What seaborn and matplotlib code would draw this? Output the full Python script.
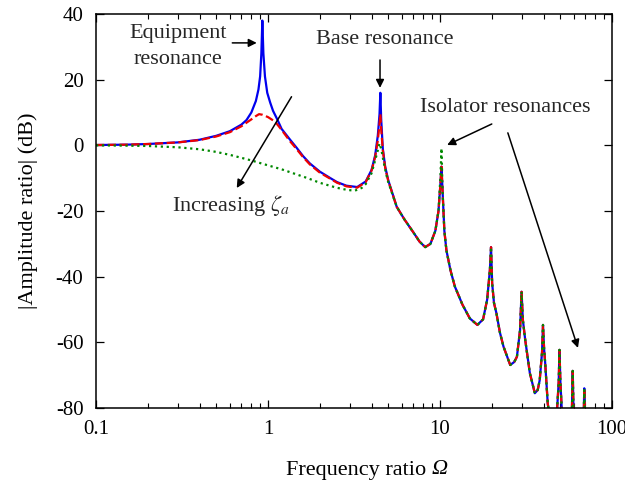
import numpy as np
import pandas as pd
import matplotlib
matplotlib.use("Agg")
import matplotlib.pyplot as plt
import seaborn as sns

# ---------------- data ----------------
omega_low_blue = [0.1, 0.15, 0.2, 0.3, 0.4, 0.5, 0.6, 0.7, 0.75, 0.8, 0.85, 0.88, 0.9,
                  0.915, 0.927, 0.94, 0.96, 0.99, 1.03, 1.07, 1.13, 1.2, 1.34, 1.47,
                  1.6, 1.75, 2.0, 2.29, 2.52, 2.86, 3.3, 3.7, 4.0, 4.2, 4.35, 4.45, 4.5,
                  4.55, 4.65, 4.8, 5.0]
amp_low_blue = [0.1, 0.2, 0.4, 0.9, 1.7, 2.9, 4.3, 6.3, 7.7, 10.0, 13.5, 17.0, 21.0,
                28.0, 38.0, 28.0, 21.0, 16.0, 13.0, 10.5, 8.0, 5.0, 1.8, -0.8,
                -3.3, -5.5, -8.0, -9.9, -11.2, -12.3, -12.7, -11.0, -7.5, -3.0, 3.0, 9.5, 16.0,
                8.0, -1.0, -6.5, -10.6]

omega_low_red = [0.1, 0.15, 0.2, 0.3, 0.4, 0.5, 0.6, 0.7, 0.75, 0.8, 0.85, 0.887, 0.93,
                 1.0, 1.1, 1.2, 1.34, 1.47, 1.6, 1.75, 2.0, 2.29, 2.52, 2.86, 3.3, 3.7,
                 4.0, 4.2, 4.35, 4.45, 4.5, 4.55, 4.65, 4.8, 5.0]
amp_low_red = [0.1, 0.2, 0.4, 0.9, 1.6, 2.7, 4.0, 5.8, 6.9, 7.9, 8.9, 9.5, 9.3,
               8.6, 7.2, 4.7, 1.3, -1.2, -3.6, -5.8, -8.3, -10.1, -11.4, -12.5, -12.9, -11.2,
               -7.7, -3.5, 1.5, 6.5, 9.5, 5.0, -1.5, -6.8, -10.8]

omega_low_green = [0.1, 0.15, 0.2, 0.3, 0.4, 0.5, 0.6, 0.7, 0.8, 0.9, 1.0, 1.2, 1.4,
                   1.7, 2.0, 2.5, 2.9, 3.2, 3.5, 3.7, 4.0, 4.2, 4.35, 4.45, 4.55,
                   4.7, 4.85, 5.0]
amp_low_green = [0.0, -0.1, -0.2, -0.6, -1.2, -2.0, -2.9, -3.8, -4.6, -5.4, -6.1, -7.3, -8.5,
                 -10.0, -11.4, -12.9, -13.6, -13.8, -13.0, -11.8, -8.5, -4.5, -1.5, 0.6, -1.0,
                 -5.0, -8.5, -11.2]

omega_tail = [5.6, 6.2, 7.0, 7.6, 8.2, 8.8, 9.4, 9.8, 10.05, 10.2, 10.35, 10.6, 10.9,
              11.5, 12.2, 13.5, 14.9, 16.5, 17.8, 18.8, 19.5, 19.8, 20.1, 20.6, 21.3,
              22.3, 23.4, 25.6, 27.0, 28.0, 29.2, 29.8, 30.3, 31.3, 33.3, 35.6, 37.0,
              38.0, 39.2, 39.7, 40.3, 40.9, 42.3, 44.0, 46.0, 48.0, 49.0, 49.5, 50.1,
              51.0, 53.0, 57.0, 58.5, 59.1, 59.7, 61.0, 67.0, 68.5, 69.0, 69.6, 71.0, 100.0]
amp_tail = [-18.7, -22.5, -26.5, -29.3, -31.0, -30.0, -26.0, -20.0, -12.0, -6.5, -14.0, -26.0, -32.0,
            -38.0, -43.0, -48.5, -52.7, -54.7, -53.0, -47.0, -38.0, -31.0, -42.0, -48.0, -51.2,
            -57.0, -61.3, -66.9, -66.0, -64.4, -56.3, -44.6, -53.0, -59.3, -69.4, -75.5, -74.5,
            -71.5, -63.0, -54.7, -62.0, -66.4, -78.6, -85.0, -86.0, -80.0, -72.0, -62.3, -72.0,
            -80.0, -88.0, -88.0, -80.0, -68.7, -80.0, -88.0, -90.0, -82.0, -74.0, -82.0, -90.0, -95.0]
amp_tail_green = [-18.7, -22.5, -26.5, -29.3, -31.0, -30.0, -26.0, -20.0, -10.0, -0.9, -14.0, -26.0, -32.0,
                  -38.0, -43.0, -48.5, -52.7, -54.7, -53.0, -47.0, -38.0, -31.0, -42.0, -48.0, -51.2,
                  -57.0, -61.3, -66.9, -66.0, -64.4, -56.3, -44.6, -53.0, -59.3, -69.4, -75.5, -74.5,
                  -71.5, -63.0, -54.7, -62.0, -66.4, -78.6, -85.0, -86.0, -80.0, -72.0, -62.3, -72.0,
                  -80.0, -88.0, -88.0, -80.0, -68.7, -80.0, -88.0, -90.0, -82.0, -74.5, -82.0, -90.0, -95.0]

x_ticks = [0.1, 1, 10, 100]
x_tick_labels = ["0.1", "1", "10", "100"]
y_ticks = [-80, -60, -40, -20, 0, 20, 40]
y_tick_labels = ["-80", "-60", "-40", "-20", "0", "20", "40"]

# ---------------- style ----------------
sns.set_theme(style="ticks")
plt.rcParams["font.family"] = ["Liberation Serif", "DejaVu Serif"]
plt.rcParams["mathtext.fontset"] = "stix"
plt.rcParams["axes.unicode_minus"] = False

fig = plt.figure(figsize=(6.25, 4.82), dpi=100)
ax = fig.add_axes([96 / 625, 1 - 408 / 482, (612 - 96) / 625, (408 - 14) / 482])

series = [
    ("blue", omega_low_blue + omega_tail, amp_low_blue + amp_tail, "-", "#0000ee"),
    ("red", omega_low_red + omega_tail, amp_low_red + amp_tail, "--", "#ee0000"),
    ("green", omega_low_green + omega_tail, amp_low_green + amp_tail_green, ":", "#008800"),
]
for name, xs, ys, ls, col in series:
    df = pd.DataFrame({"omega": xs, "amp": ys})
    sns.lineplot(data=df, x="omega", y="amp", ax=ax, color=col, linestyle=ls,
                 linewidth=1.6, estimator=None, sort=False, legend=False)

ax.set_xscale("log")
ax.set_xlim(0.1, 100)
ax.set_ylim(-80, 40)
ax.set_xticks(x_ticks, labels=x_tick_labels)
ax.set_yticks(y_ticks, labels=y_tick_labels)
ax.xaxis.set_minor_locator(matplotlib.ticker.LogLocator(base=10, subs=np.arange(2, 10)))
ax.xaxis.set_minor_formatter(matplotlib.ticker.NullFormatter())
ax.tick_params(which="both", direction="in", top=True, right=True, color="black")
ax.tick_params(which="major", length=6, width=0.9, labelsize=15, pad=9, labelcolor="black")
ax.tick_params(which="minor", length=3.5, width=0.8)
for sp in ax.spines.values():
    sp.set_linewidth(1.1)
    sp.set_color("black")

ax.set_xlabel("")
ax.set_ylabel("|Amplitude ratio| (dB)", fontsize=16, color="black", labelpad=13)

# x label: upright text followed by an italic Omega
t1 = fig.text(286 / 625, 1 - 470 / 482, "Frequency ratio ", ha="left", va="center",
              fontsize=16, color="black")
ax.annotate("Ω", xy=(1.0, 0.0), xycoords=t1, ha="left", va="bottom",
            fontsize=16, fontstyle="italic", color="black")

# ---------------- annotations ----------------
akw = dict(arrowstyle="-|>", color="black", lw=1.1, mutation_scale=12, shrinkA=0, shrinkB=0)
ax.text(0.30, 30.0, "Equipment\nresonance", ha="center", va="center", fontsize=16,
        linespacing=1.5)
ax.annotate("", xy=(0.86, 31.2), xytext=(0.62, 31.2), arrowprops=akw)

ax.text(4.8, 32.1, "Base resonance", ha="center", va="center", fontsize=16)
ax.annotate("", xy=(4.48, 17.5), xytext=(4.48, 26.0), arrowprops=akw)

ax.text(24.0, 11.4, "Isolator resonances", ha="center", va="center", fontsize=16)
ax.annotate("", xy=(11.0, 0.1), xytext=(20.0, 6.5), arrowprops=akw)
ax.annotate("", xy=(63.4, -61.7), xytext=(24.8, 3.8), arrowprops=akw)

ax.text(0.61, -18.3, r"Increasing $\zeta_a$", ha="center", va="center", fontsize=16)
ax.annotate("", xy=(0.658, -13.0), xytext=(1.37, 14.8), arrowprops=akw)

fig.savefig("out.png", dpi=100)
